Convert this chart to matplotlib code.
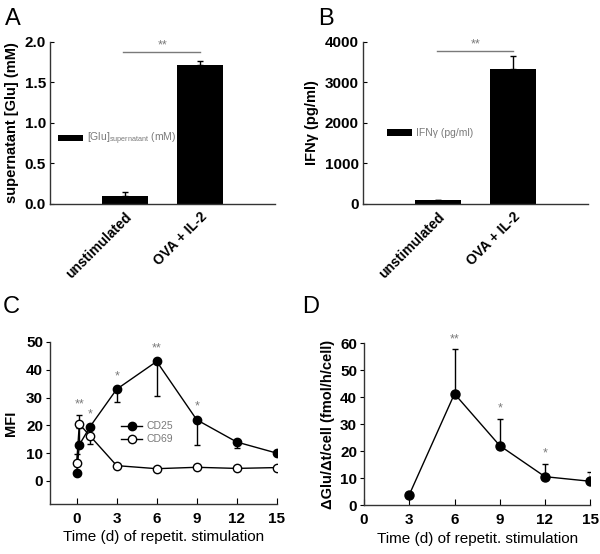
import matplotlib.pyplot as plt
from matplotlib.lines import Line2D

plt.rcParams['font.family'] = ['Liberation Sans', 'DejaVu Sans']

# --- data ---
groups = ["unstimulated", "OVA + IL-2"]
glu_mM = [0.10, 1.71]
glu_err = [0.05, 0.06]
ifng = [100, 3330]
ifng_err = [0, 320]

days_c = [0, 0.2, 1, 3, 6, 9, 12, 15]
cd25 = [2.7, 13.0, 19.5, 33.0, 43.0, 22.0, 14.0, 10.0]
cd25_lo = [0, 0, 0, 4.5, 12.5, 9.0, 2.2, 0]
cd25_hi = [0, 6.0, 0, 0, 0, 0, 0, 0]
cd69 = [6.3, 20.5, 16.2, 5.5, 4.4, 4.9, 4.5, 4.8]
cd69_lo = [0, 0, 3.0, 0, 0, 0, 0, 0]
cd69_hi = [3.5, 3.3, 0, 0, 0, 0, 0, 0]
stars_c = [(0.2, 25.3, "**"), (1, 21.8, "*"), (3, 35.3, "*"), (6, 45.5, "**"), (9, 24.5, "*")]

days_d = [3, 6, 9, 12, 15]
dglu = [3.8, 41.2, 22.0, 10.5, 8.8]
dglu_err = [0, 16.5, 9.8, 4.6, 3.6]
stars_d = [(6, 59.0, "**"), (9, 33.5, "*"), (12, 17.0, "*")]

GRAY = "#7a7a7a"
tick_font = dict(fontsize=11, fontweight="bold")
cat_font = dict(fontsize=10, fontweight="bold")

fig = plt.figure(figsize=(6, 5.54), dpi=100)


def style_axes(ax):
    for s in ["top", "right"]:
        ax.spines[s].set_visible(False)
    for s in ["left", "bottom"]:
        ax.spines[s].set_linewidth(1.0)
        ax.spines[s].set_color("#333333")


def bar_panel(rect, vals, errs, ymax, yticks, yfmt, ylabel, leg_label, leg_x, leg_y, sig_y, letter):
    ax = fig.add_axes(rect)
    style_axes(ax)
    xs = [1, 2]
    ax.bar(xs, vals, width=0.62, color="black", label=leg_label)
    ax.errorbar(xs, vals, yerr=[[0, 0], errs], fmt="none", ecolor="black",
                elinewidth=1, capsize=2.5, capthick=1)
    ax.set_xlim(0, 3)
    ax.set_ylim(0, ymax)
    ax.set_yticks(yticks)
    ax.set_yticklabels([yfmt.format(v) for v in yticks], **tick_font)
    ax.tick_params(axis="y", direction="in", length=3, pad=3)
    ax.set_xticks(xs)
    ax.set_xticklabels(groups, rotation=45, ha="right", rotation_mode="anchor", **cat_font)
    ax.tick_params(axis="x", length=0, pad=4)
    ax.set_ylabel(ylabel, fontsize=10.5, fontweight="bold", labelpad=4)
    ax.plot([0.98, 2.0], [sig_y, sig_y], color=GRAY, lw=1)
    ax.text(1.5, sig_y, "**", color=GRAY, ha="center", va="bottom", fontsize=9)
    ax.legend(loc="center left", bbox_to_anchor=(leg_x, leg_y / ymax), frameon=False,
              fontsize=7.5, labelcolor=GRAY, handlelength=2.4, handleheight=0.55,
              handletextpad=0.4, borderpad=0, borderaxespad=0)
    fig.text(rect[0] - 0.075, 0.985, letter, fontsize=17, va="top", ha="left")
    return ax


bar_panel([0.0833, 0.6318, 0.375, 0.2924], glu_mM, glu_err, 2.0, [0, 0.5, 1.0, 1.5, 2.0],
          "{:.1f}", "supernatant [Glu] (mM)", r"[Glu]$_{\mathregular{supernatant}}$ (mM)",
          0.036, 0.8, 1.88, "A")
bar_panel([0.605, 0.6318, 0.375, 0.2924], ifng, ifng_err, 4000, [0, 1000, 2000, 3000, 4000],
          "{:.0f}", "IFNγ (pg/ml)", "IFNγ (pg/ml)", 0.107, 1750, 3780, "B")

# --- panel C ---
axc = fig.add_axes([0.0833, 0.0903, 0.378, 0.2924])
style_axes(axc)
axc.errorbar(days_c, cd69, yerr=[cd69_lo, cd69_hi], fmt="none", ecolor="black",
             elinewidth=1, capsize=2, capthick=1, zorder=2)
axc.errorbar(days_c, cd25, yerr=[cd25_lo, cd25_hi], fmt="none", ecolor="black",
             elinewidth=1, capsize=2, capthick=1, zorder=2)
axc.plot(days_c, cd25, "-o", color="black", lw=1, ms=6, mfc="black", mec="black", zorder=3)
axc.plot(days_c, cd69, "-o", color="black", lw=1, ms=6, mfc="white", mec="black", zorder=4)
for x, y, s in stars_c:
    axc.text(x, y, s, color=GRAY, ha="center", va="bottom", fontsize=9)
axc.set_xlim(-2, 15)
axc.set_ylim(-8.3, 50)
axc.set_xticks([0, 3, 6, 9, 12, 15])
axc.set_xticklabels(["0", "3", "6", "9", "12", "15"], **tick_font)
axc.set_yticks([0, 10, 20, 30, 40, 50])
axc.set_yticklabels(["0", "10", "20", "30", "40", "50"], **tick_font)
axc.tick_params(axis="x", direction="in", length=4, pad=6)
axc.tick_params(axis="y", direction="out", length=3, pad=2)
axc.set_xlabel("Time (d) of repetit. stimulation", fontsize=11, labelpad=3)
axc.set_ylabel("MFI", fontsize=10.5, fontweight="bold", labelpad=6)
handles = [Line2D([], [], color="black", lw=1, marker="o", ms=6, mfc="black", mec="black"),
           Line2D([], [], color="black", lw=1, marker="o", ms=6, mfc="white", mec="black")]
axc.legend(handles, ["CD25", "CD69"], loc="upper left", bbox_to_anchor=(0.315, 0.51),
           frameon=False, fontsize=7.5, labelcolor=GRAY, handlelength=2.0,
           handletextpad=0.4, labelspacing=0.3, borderpad=0, borderaxespad=0)
fig.text(0.005, 0.465, "C", fontsize=17, va="top", ha="left")

# --- panel D ---
axd = fig.add_axes([0.6067, 0.0884, 0.377, 0.2924])
style_axes(axd)
axd.errorbar(days_d, dglu, yerr=[[0] * len(dglu), dglu_err], fmt="none", ecolor="black",
             elinewidth=1, capsize=2, capthick=1, zorder=2)
axd.plot(days_d, dglu, "-o", color="black", lw=1, ms=6.5, mfc="black", mec="black", zorder=3)
for x, y, s in stars_d:
    axd.text(x, y, s, color=GRAY, ha="center", va="bottom", fontsize=9)
axd.set_xlim(0, 15)
axd.set_ylim(0, 60)
axd.set_xticks([0, 3, 6, 9, 12, 15])
axd.set_xticklabels(["0", "3", "6", "9", "12", "15"], **tick_font)
axd.set_yticks([0, 10, 20, 30, 40, 50, 60])
axd.set_yticklabels(["0", "10", "20", "30", "40", "50", "60"], **tick_font)
axd.tick_params(axis="x", direction="in", length=4, pad=6)
axd.tick_params(axis="y", direction="out", length=3, pad=2)
axd.set_xlabel("Time (d) of repetit. stimulation", fontsize=11, labelpad=3)
axd.set_ylabel("ΔGlu/Δt/cell (fmol/h/cell)", fontsize=10.5, fontweight="bold", labelpad=4)
fig.text(0.503, 0.465, "D", fontsize=17, va="top", ha="left")

fig.savefig("out.png", dpi=100)
